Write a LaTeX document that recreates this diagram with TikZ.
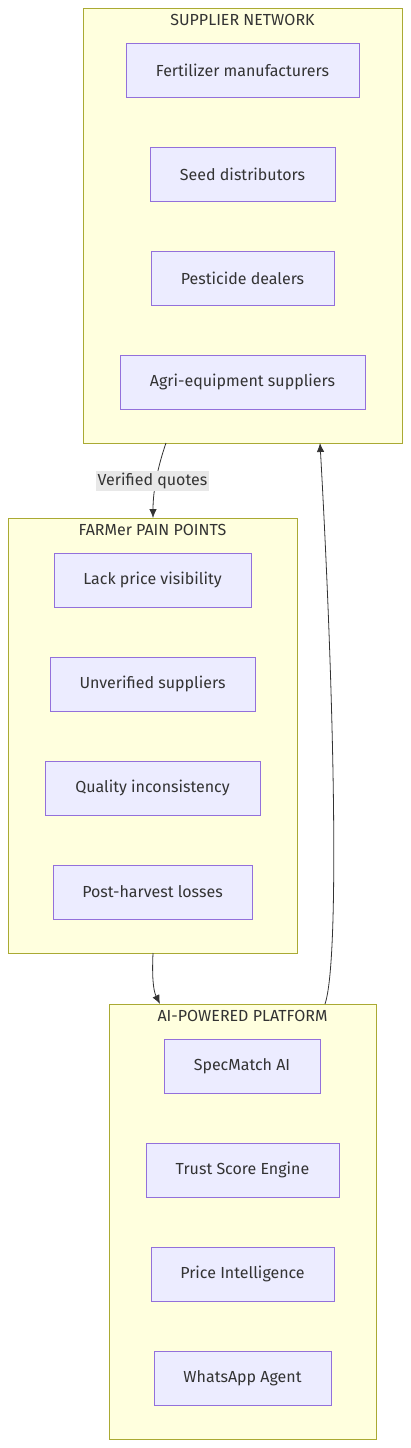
\documentclass[tikz,border=0pt]{standalone}
\usepackage{fontspec}
\setmainfont{Fira Sans}
\usetikzlibrary{arrows.meta}
\definecolor{clfill}{HTML}{FFFFDE}
\definecolor{cldraw}{HTML}{AAAA33}
\definecolor{ndfill}{HTML}{ECECFF}
\definecolor{nddraw}{HTML}{9370DB}
\definecolor{txt}{HTML}{333333}
\definecolor{lblbg}{HTML}{E8E8E8}
\begin{document}
\begin{tikzpicture}[x=1pt,y=-1pt,
  cluster/.style={draw=cldraw,fill=clfill,line width=0.8pt},
  item/.style={draw=nddraw,fill=ndfill,line width=0.8pt},
  itemtext/.style={text=txt,font=\fontsize{16}{19}\selectfont,inner sep=0pt},
  ttl/.style={text=txt,font=\fontsize{16}{19}\selectfont,inner sep=0pt},
  conn/.style={draw=txt,line width=0.8pt,-{Latex[length=9pt,width=7.5pt]}}]
\useasboundingbox (0,0) rectangle (411,1448);
% clusters
\draw[cluster] (83,8) rectangle (402,443);
\node[ttl] (t1) at (242.5,19.5) {SUPPLIER NETWORK};
\draw[cluster] (8,518) rectangle (297,953);
\node[ttl] (t2) at (152.5,529.5) {FARMer PAIN POINTS};
\draw[cluster] (109,1004) rectangle (376,1439);
\node[ttl] (t3) at (242.5,1015.5) {AI-POWERED PLATFORM};
% helper coordinates for cluster edges
\coordinate (supB1) at (166,443);
\coordinate (supB2) at (320,443);
\coordinate (farT) at (153,518);
\coordinate (farB) at (153,953);
\coordinate (aiT1) at (160,1004);
\coordinate (aiT2) at (325,1004);
% supplier nodes
\draw[item] (126,43) rectangle (359,97);
\node[itemtext] (n1) at (242.5,70) {Fertilizer manufacturers};
\draw[item] (150,147) rectangle (335,201);
\node[itemtext] (n2) at (242.5,174) {Seed distributors};
\draw[item] (151,251) rectangle (334,305);
\node[itemtext] (n3) at (242.5,278) {Pesticide dealers};
\draw[item] (120,355) rectangle (365,409);
\node[itemtext] (n4) at (242.5,382) {Agri-equipment suppliers};
% farmer nodes
\draw[item] (54,553) rectangle (251,607);
\node[itemtext] (f1) at (152.5,580) {Lack price visibility};
\draw[item] (50,657) rectangle (255,711);
\node[itemtext] (f2) at (152.5,684) {Unverified suppliers};
\draw[item] (45,761) rectangle (260,815);
\node[itemtext] (f3) at (152.5,788) {Quality inconsistency};
\draw[item] (53,865) rectangle (252,919);
\node[itemtext] (f4) at (152.5,892) {Post-harvest losses};
% AI nodes
\draw[item] (164,1039) rectangle (320,1093);
\node[itemtext] (a1) at (242,1066) {SpecMatch AI};
\draw[item] (146,1143) rectangle (339,1197);
\node[itemtext] (a2) at (242.5,1170) {Trust Score Engine};
\draw[item] (151,1247) rectangle (334,1301);
\node[itemtext] (a3) at (242.5,1274) {Price Intelligence};
\draw[item] (154,1351) rectangle (331,1405);
\node[itemtext] (a4) at (242.5,1378) {WhatsApp Agent};
% connectors
\draw[conn] (supB1) .. controls (158,466) and (153,490) .. (farT);
\node[fill=lblbg,text=txt,font=\fontsize{16}{19}\selectfont,inner xsep=1.5pt,inner ysep=2pt] (lbl) at (152.5,481) {Verified quotes};
\draw[conn] (farB) .. controls (152,975) and (153,990) .. (aiT1);
\draw[conn] (aiT2) .. controls (340,960) and (334,690) .. (supB2);
\end{tikzpicture}
\end{document}
